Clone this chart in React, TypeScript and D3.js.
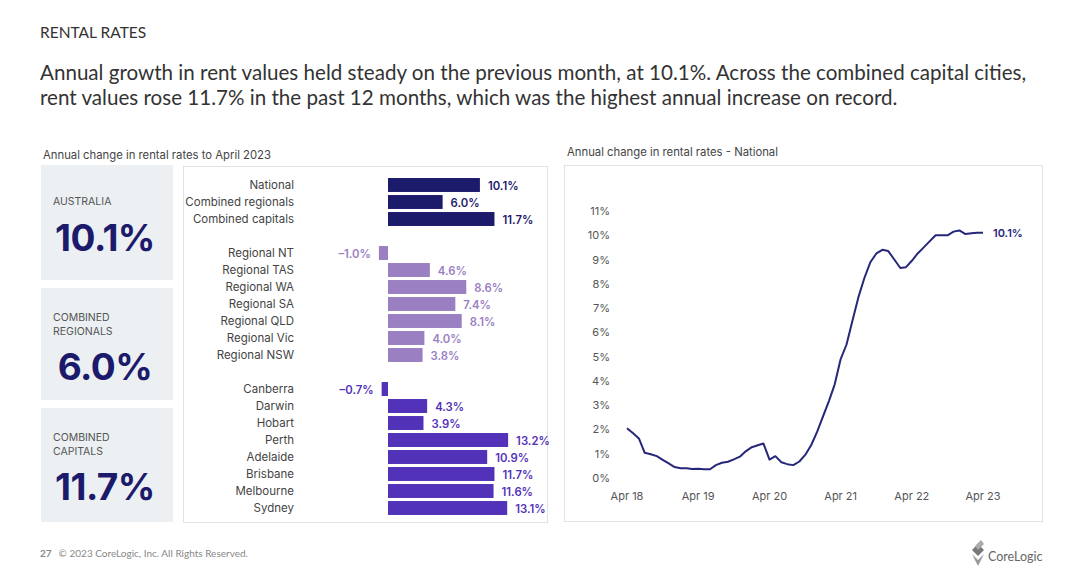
import React from "react";
import * as d3 from "d3";

// ---------- Data ----------
const barCategories = [
  "National", "Combined regionals", "Combined capitals", "",
  "Regional NT", "Regional TAS", "Regional WA", "Regional SA", "Regional QLD", "Regional Vic", "Regional NSW", " ",
  "Canberra", "Darwin", "Hobart", "Perth", "Adelaide", "Brisbane", "Melbourne", "Sydney",
];
const barValues: (number | null)[] = [
  10.1, 6.0, 11.7, null,
  -1.0, 4.6, 8.6, 7.4, 8.1, 4.0, 3.8, null,
  -0.7, 4.3, 3.9, 13.2, 10.9, 11.7, 11.6, 13.1,
];
const barGroups = [
  "agg", "agg", "agg", "",
  "reg", "reg", "reg", "reg", "reg", "reg", "reg", "",
  "cap", "cap", "cap", "cap", "cap", "cap", "cap", "cap",
];

const kpiLabels = [["AUSTRALIA"], ["COMBINED", "REGIONALS"], ["COMBINED", "CAPITALS"]];
const kpiValues = ["10.1%", "6.0%", "11.7%"];

// Monthly national annual change, Apr 2018 .. Apr 2023
const lineValues = [
  2.05, 1.85, 1.63, 1.04, 0.98, 0.9, 0.75, 0.6, 0.45, 0.4, 0.4, 0.37,
  0.38, 0.36, 0.36, 0.53, 0.63, 0.67, 0.77, 0.88, 1.1, 1.27, 1.35, 1.42,
  0.76, 0.9, 0.65, 0.57, 0.53, 0.68, 0.95, 1.36, 1.9, 2.55, 3.2, 3.85,
  4.9, 5.5, 6.5, 7.45, 8.25, 8.9, 9.25, 9.4, 9.35, 9.0, 8.65, 8.68,
  8.95, 9.25, 9.5, 9.75, 10.0, 10.0, 10.0, 10.15, 10.2, 10.05, 10.08, 10.1,
  10.1,
];
const yTicks = [0, 1, 2, 3, 4, 5, 6, 7, 8, 9, 10, 11];
const xTickLabels = ["Apr 18", "Apr 19", "Apr 20", "Apr 21", "Apr 22", "Apr 23"];

const colors: Record<string, string> = { agg: "#1c1a6b", reg: "#9a80c3", cap: "#5232b9" };
const FONT = "Inter, 'Open Sans', sans-serif";
const HEAD = "Lato, 'Open Sans', sans-serif";

export default function App() {
  // Bar chart scales
  const xBar = d3.scaleLinear().domain([0, 10]).range([388, 479]);
  const yBar = d3.scaleBand().domain(barCategories).range([176.5, 516.5]).paddingInner(0.18).paddingOuter(0.09);

  // Line chart scales
  const start = new Date(2018, 3, 1);
  const dates = lineValues.map((_, i) => d3.timeMonth.offset(start, i));
  const xLine = d3.scaleTime().domain([start, new Date(2023, 3, 1)]).range([627, 983]);
  const yLine = d3.scaleLinear().domain([0, 11]).range([478, 211]);
  const linePath = d3.line<number>()
    .x((_, i) => xLine(dates[i]))
    .y((d) => yLine(d))
    .curve(d3.curveLinear)(lineValues);

  const kpiBoxes = [
    { y: 165, h: 115 },
    { y: 288, h: 112 },
    { y: 408, h: 114 },
  ];

  return (
    <svg width={1080} height={580} style={{ position: "absolute", left: 0, top: 0, background: "#fff" }}>
      <rect width={1080} height={580} fill="#fff" />
      {/* Header */}
      <text x={40} y={38} fontFamily={HEAD} fontSize={15.5} fill="#333">RENTAL RATES</text>
      <text x={40} y={80} fontFamily={HEAD} fontSize={20.6} fill="#333">
        Annual growth in rent values held steady on the previous month, at 10.1%. Across the combined capital cities,
      </text>
      <text x={40} y={105} fontFamily={HEAD} fontSize={20.6} fill="#333">
        rent values rose 11.7% in the past 12 months, which was the highest annual increase on record.
      </text>

      {/* Left subtitle */}
      <text x={43} y={159} fontFamily={FONT} fontSize={11.3} fill="#444">Annual change in rental rates to April 2023</text>

      {/* KPI boxes */}
      {kpiBoxes.map((b, i) => (
        <g key={i}>
          <rect x={41} y={b.y} width={132} height={b.h} fill="#ecf0f3" />
          {kpiLabels[i].map((l, j) => (
            <text key={j} x={53} y={b.y + (kpiLabels[i].length === 1 ? 40 : 33) + j * 14} fontFamily={FONT} fontSize={10.5} fill="#555">{l}</text>
          ))}
          <text x={105} y={b.y + (i === 0 ? 86 : 92)} textAnchor="middle" fontFamily={FONT} fontWeight={700} fontSize={37} fill="#1c1a6b" letterSpacing={-0.5}>{kpiValues[i]}</text>
        </g>
      ))}

      {/* Bar panel */}
      <rect x={183.5} y={166.5} width={364} height={356} fill="#fff" stroke="#e2e2e2" />
      {barCategories.map((c, i) => {
        const v = barValues[i];
        if (v === null) return null;
        const y = yBar(c)!;
        const h = yBar.bandwidth();
        const x0 = Math.min(xBar(0), xBar(v));
        const w = Math.abs(xBar(v) - xBar(0));
        const col = colors[barGroups[i]];
        const neg = v < 0;
        return (
          <g key={i}>
            <text x={294} y={y + h / 2 + 4} textAnchor="end" fontFamily={FONT} fontSize={11.5} fill="#444">{c.trim()}</text>
            <rect x={x0} y={y} width={w} height={h} fill={col} />
            <text
              x={neg ? x0 - 8 : x0 + w + 8}
              y={y + h / 2 + 5}
              textAnchor={neg ? "end" : "start"}
              fontFamily={FONT}
              fontWeight={600}
              fontSize={11.3}
              fill={col}
            >
              {v < 0 ? "\u2013" + Math.abs(v).toFixed(1) + "%" : v.toFixed(1) + "%"}
            </text>
          </g>
        );
      })}

      {/* Right subtitle */}
      <text x={567} y={156} fontFamily={FONT} fontSize={11.3} fill="#444">Annual change in rental rates - National</text>

      {/* Line panel */}
      <rect x={564.5} y={165.5} width={478} height={356} fill="#fff" stroke="#e2e2e2" />
      {yTicks.map((t) => (
        <text key={t} x={610} y={yLine(t) + 4} textAnchor="end" fontFamily={FONT} fontSize={11} fill="#555">{t}%</text>
      ))}
      {xTickLabels.map((l, i) => (
        <text key={l} x={xLine(new Date(2018 + i, 3, 1))} y={500} textAnchor="middle" fontFamily={FONT} fontSize={11} fill="#555">{l}</text>
      ))}
      <path d={linePath || ""} fill="none" stroke="#27277a" strokeWidth={2} strokeLinejoin="round" />
      <text x={993} y={yLine(lineValues[lineValues.length - 1]) + 4} fontFamily={FONT} fontWeight={600} fontSize={11} fill="#27277a">10.1%</text>

      {/* Footer */}
      <text x={40} y={557} fontFamily={HEAD} fontSize={10} fill="#888">
        <tspan fontWeight={700}>27</tspan>
        <tspan dx={7}>© 2023 CoreLogic, Inc. All Rights Reserved.</tspan>
      </text>
      <g transform="translate(972,548)">
        <polygon points="0,2 6,-4 12,2 6,8" fill="#777" />
        <polygon points="0,6 6,12 12,6 6,18" fill="#999" />
        <polygon points="3,-2 9,-8 12,-4 6,2" fill="#aaa" />
      </g>
      <text x={988} y={561} fontFamily={HEAD} fontSize={12.5} fill="#666">CoreLogic</text>
    </svg>
  );
}
